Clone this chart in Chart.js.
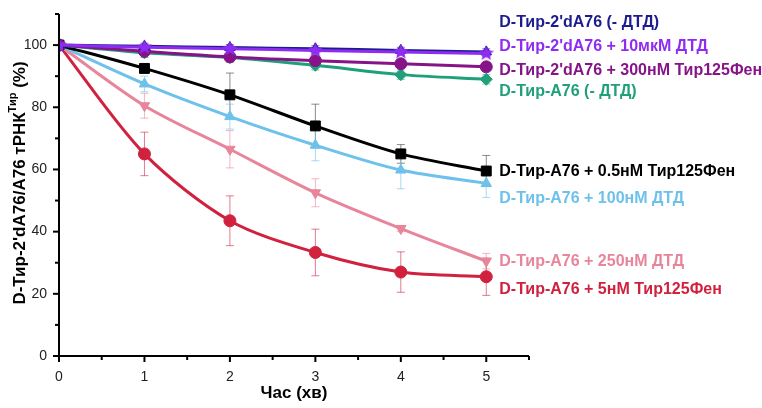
<!DOCTYPE html>
<html>
<head>
<meta charset="utf-8">
<script src="https://cdn.jsdelivr.net/npm/chart.js@4.4.0/dist/chart.umd.min.js"></script>
<style>
  html, body { margin: 0; padding: 0; background: #fff; }
  #wrap { width: 762px; height: 408px; }
</style>
</head>
<body>
<div id="wrap"><canvas id="chart" width="762" height="408"></canvas></div>
<script>
const times = [0, 1, 2, 3, 4, 5];

const labels = [
    "D-Тир-2'dA76 (- ДТД)",
    "D-Тир-2'dA76 + 10мкМ ДТД",
    "D-Тир-2'dA76 + 300нМ Тир125Фен",
    "D-Тир-A76 (- ДТД)",
    "D-Тир-A76 + 0.5нМ Тир125Фен",
    "D-Тир-A76 + 100нМ ДТД",
    "D-Тир-A76 + 250нМ ДТД",
    "D-Тир-A76 + 5нМ Тир125Фен"
];

const navyVals   = [100, 99.6, 99.2, 98.8, 98.3, 97.8];
const violetVals = [100, 99.3, 98.8, 98.3, 97.8, 97.3];
const purpleVals = [100, 98, 96.2, 95, 94, 93];
const greenVals  = [100, 97.5, 96, 93.5, 90.5, 89];
const blackVals  = [100, 92.5, 84, 74, 65, 59.5];
const blueVals   = [100, 87.5, 77, 67.8, 59.8, 55.5];
const pinkVals   = [100, 80.5, 66.5, 52.5, 41, 30.5];
const redVals    = [100, 65, 43.5, 33.3, 27, 25.5];

const navyErr   = [0, 1, 1, 1, 1, 1];
const violetErr = [0, 1, 1, 1, 1, 1];
const purpleErr = [0, 1, 1, 1, 1, 1];
const greenErr  = [0, 1.5, 1.5, 1.5, 1.5, 1.5];
const blackErr  = [0, 1.5, 7, 7, 3, 5];
const blueErr   = [0, 2.5, 4, 5, 6, 4.5];
const pinkErr   = [0, 4, 6, 4.5, 1, 2.5];
const redErr    = [0, 7, 8, 7.5, 6.5, 6];

const xTicks = [0, 1, 2, 3, 4, 5];
const yTicks = [0, 20, 40, 60, 80, 100];

function pts(vals) { return times.map((t, i) => ({ x: t, y: vals[i] })); }

// filled five-point star marker
function starImage(color, r) {
    const c = document.createElement('canvas');
    c.width = c.height = r * 2 + 2;
    const g = c.getContext('2d');
    g.fillStyle = color;
    g.beginPath();
    for (let k = 0; k < 10; k++) {
        const rad = k % 2 === 0 ? r : r * 0.45;
        const a = -Math.PI / 2 + k * Math.PI / 5;
        g.lineTo(r + 1 + rad * Math.cos(a), r + 1 + rad * Math.sin(a));
    }
    g.closePath();
    g.fill();
    return c;
}

function series(i, vals, err, color, barColor, style, radius, rot, order, labelY) {
    return {
        label: labels[i], data: pts(vals), err: err, barColor: barColor, labelY: labelY,
        borderColor: color, backgroundColor: color, pointStyle: style, rotation: rot,
        pointRadius: radius, pointBorderWidth: 1,
        borderWidth: 3, tension: 0.3, order: order
    };
}

const datasets = [
    series(0, navyVals, navyErr, '#1c1c8f', 'rgba(28,28,143,0.6)', 'triangle', 6, 0, 2, 23),
    series(1, violetVals, violetErr, '#8f2cf2', 'rgba(143,44,242,0.6)', starImage('#8f2cf2', 8), 8, 0, 1, 47),
    series(2, purpleVals, purpleErr, '#861388', 'rgba(134,19,136,0.6)', 'circle', 6, 0, 3, 71),
    series(3, greenVals, greenErr, '#1fa07a', 'rgba(31,160,122,0.6)', 'rectRot', 6, 0, 4, 92),
    series(4, blackVals, blackErr, '#000000', 'rgba(90,90,90,0.7)', 'rect', 7, 0, 5, 172),
    series(5, blueVals, blueErr, '#6ec1ea', 'rgba(110,193,234,0.6)', 'triangle', 6, 0, 6, 199),
    series(6, pinkVals, pinkErr, '#e8859b', 'rgba(232,133,155,0.6)', 'triangle', 6, 180, 7, 262),
    series(7, redVals, redErr, '#d0213f', 'rgba(208,33,63,0.6)', 'circle', 6, 0, 8, 290)
];

const errorBars = {
    id: 'errorBars',
    beforeDatasetsDraw(chart) {
        const { ctx, scales: { x, y } } = chart;
        ctx.save();
        ctx.lineWidth = 1;
        chart.data.datasets.forEach(ds => {
            ctx.strokeStyle = ds.barColor;
            ds.data.forEach((p, i) => {
                const e = ds.err[i];
                if (!e) return;
                const px = x.getPixelForValue(p.x);
                const top = y.getPixelForValue(p.y + e), bot = y.getPixelForValue(p.y - e);
                ctx.beginPath();
                ctx.moveTo(px, top); ctx.lineTo(px, bot);
                ctx.moveTo(px - 4, top); ctx.lineTo(px + 4, top);
                ctx.moveTo(px - 4, bot); ctx.lineTo(px + 4, bot);
                ctx.stroke();
            });
        });
        ctx.restore();
    }
};

const decorations = {
    id: 'decorations',
    afterDraw(chart) {
        const { ctx, chartArea: a, scales: { x, y } } = chart;
        ctx.save();
        // axes
        ctx.strokeStyle = '#000';
        ctx.lineWidth = 2;
        ctx.beginPath();
        ctx.moveTo(a.left, a.top); ctx.lineTo(a.left, a.bottom); ctx.lineTo(a.right, a.bottom);
        ctx.stroke();
        for (let v = 0; v <= 110; v += 10) {
            const py = y.getPixelForValue(v);
            const len = v % 20 === 0 ? 6 : 4;
            ctx.beginPath(); ctx.moveTo(a.left - len, py); ctx.lineTo(a.left, py); ctx.stroke();
        }
        for (let v = 0; v <= 5.5; v += 0.5) {
            const px = x.getPixelForValue(v);
            const len = Number.isInteger(v) ? 6 : 4;
            ctx.beginPath(); ctx.moveTo(px, a.bottom); ctx.lineTo(px, a.bottom + len); ctx.stroke();
        }
        // series labels
        ctx.font = 'bold 16px "Liberation Sans", Arial, sans-serif';
        ctx.textBaseline = 'middle';
        ctx.textAlign = 'left';
        const lx = x.getPixelForValue(5) + 13;
        chart.data.datasets.forEach(ds => {
            ctx.fillStyle = ds.borderColor;
            ctx.fillText(ds.label, lx, ds.labelY);
        });
        // y title with superscript
        ctx.fillStyle = '#000';
        ctx.translate(20, 183);
        ctx.rotate(-Math.PI / 2);
        const main = "D-Тир-2'dA76/A76 тРНК", sup = 'Тир', tail = ' (%)';
        const fMain = 'bold 17px "Liberation Sans", Arial, sans-serif';
        const fSup = 'bold 11px "Liberation Sans", Arial, sans-serif';
        ctx.font = fMain; const w1 = ctx.measureText(main).width, w3 = ctx.measureText(tail).width;
        ctx.font = fSup; const w2 = ctx.measureText(sup).width;
        let sx = -(w1 + w2 + w3) / 2;
        ctx.font = fMain; ctx.fillText(main, sx, 0); sx += w1;
        ctx.font = fSup; ctx.fillText(sup, sx, -7); sx += w2;
        ctx.font = fMain; ctx.fillText(tail, sx, 0);
        ctx.restore();
    }
};

new Chart(document.getElementById('chart'), {
    type: 'line',
    data: { datasets: datasets },
    plugins: [errorBars, decorations],
    options: {
        responsive: false,
        animation: false,
        layout: { padding: { top: 14, right: 233, left: 0, bottom: 0 } },
        plugins: { legend: { display: false }, tooltip: { enabled: false } },
        scales: {
            x: {
                type: 'linear', min: 0, max: 5.5,
                afterFit(s) { s.height = 52; },
                afterBuildTicks(s) { s.ticks = xTicks.map(v => ({ value: v })); },
                grid: { display: false },
                border: { display: false },
                ticks: { padding: 5, color: '#222', font: { size: 14, family: '"Liberation Sans", Arial' } },
                title: { display: true, text: 'Час (хв)', color: '#000', padding: { top: 3 },
                         font: { size: 17, weight: 'bold', family: '"Liberation Sans", Arial' } }
            },
            y: {
                min: 0, max: 110,
                afterFit(s) { s.width = 59; },
                afterBuildTicks(s) { s.ticks = yTicks.map(v => ({ value: v })); },
                grid: { display: false },
                border: { display: false },
                ticks: { padding: 4, color: '#222', font: { size: 14, family: '"Liberation Sans", Arial' } }
            }
        }
    }
});
</script>
</body>
</html>
